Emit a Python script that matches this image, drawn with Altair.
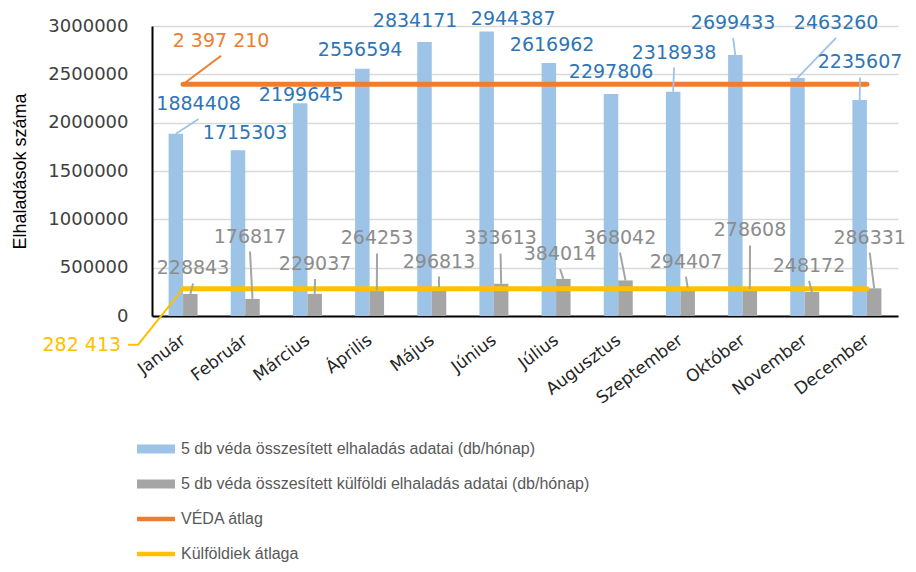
import json
import altair as alt
import pandas as pd

MONTHS = ["Január", "Február", "Március", "Április", "Május", "Június",
          "Július", "Augusztus", "Szeptember", "Október", "November", "December"]
TOTAL = [1884408, 1715303, 2199645, 2556594, 2834171, 2944387,
         2616962, 2297806, 2318938, 2699433, 2463260, 2235607]
FOREIGN = [228843, 176817, 229037, 264253, 296813, 333613,
           384014, 368042, 294407, 278608, 248172, 286331]
VEDA_AVG = 2397210
FOREIGN_AVG = 282413
AVG_LABELS = ["2 397 210", "282 413"]
SERIES = ["5 db véda összesített elhaladás adatai (db/hónap)",
          "5 db véda összesített külföldi elhaladás adatai (db/hónap)",
          "VÉDA átlag",
          "Külföldiek átlaga"]
Y_TICKS = [0, 500000, 1000000, 1500000, 2000000, 2500000, 3000000]
Y_MAX = 3000000

# styles
COLORS = ["#9DC3E6", "#A5A5A5", "#ED7D31", "#FFC000"]
BLUE_TXT = "#2E75B6"
GRAY_TXT = "#8C8C8C"

# label offsets (px) relative to the top centre of each bar
TOTAL_LABEL_DX = [22.8, 7.1, 1, -2.2, -9.4, 26.5, 3.3, 0.1, 0.9, -2.2, 38.6, 0.4]
TOTAL_LABEL_DY = [-29.8, -16.7, -8.4, -18.9, -21, -12.5, -18, -21.4, -39.3, -32, -55, -37.4]
FOREIGN_LABEL_DX = [2.7, -2.5, 0.4, 0.2, 0, -0.6, -3.3, -5.5, -1.7, 0.2, -3, -4.5]
FOREIGN_LABEL_DY = [-25.4, -62.4, -29.9, -52, -25.8, -45.3, -24.9, -42.9, -26, -58.6, -26, -50.8]

W, H = 746, 290
XU = 12 / W          # category units per pixel
YU = Y_MAX / H       # value units per pixel
BAR_W = 14.5 * XU
LEADER_GAP = 15      # px between label centre and leader start
LEADER_MIN = -24     # draw leader only when label is this far away

FONT = "DejaVu Sans"

xs = alt.Scale(domain=[-0.5, 11.5], nice=False, zero=False)
ys = alt.Scale(domain=[0, Y_MAX], nice=False)

rows = []
for i in range(12):
    rows.append(dict(idx=i, month=MONTHS[i], total=TOTAL[i], foreign=FOREIGN[i],
                     bl=i - BAR_W, bm=i, br=i + BAR_W))
months = pd.DataFrame(rows)

lab_rows, lead_rows = [], []
for i in range(12):
    for ser, vals, dxs, dys, cx in (("t", TOTAL, TOTAL_LABEL_DX, TOTAL_LABEL_DY, i - BAR_W / 2),
                                    ("f", FOREIGN, FOREIGN_LABEL_DX, FOREIGN_LABEL_DY, i + BAR_W / 2)):
        v = vals[i]
        lx = cx + dxs[i] * XU
        ly = v - dys[i] * YU
        lab_rows.append(dict(ser=ser, x=lx, y=ly, text=str(v)))
        if dys[i] < LEADER_MIN:
            lead_rows.append(dict(ser=ser, x=lx, y=ly - LEADER_GAP * YU, x2=cx, y2=v))
labels = pd.DataFrame(lab_rows)
leaders = pd.DataFrame(lead_rows)

x_axis = alt.Axis(values=list(range(12)), labelExpr=json.dumps(MONTHS) + "[datum.value]",
                  labelAngle=-37, labelAlign="right", labelBaseline="middle", labelPadding=22,
                  labelFont=FONT, labelFontSize=17, labelColor="#262626", labelOverlap=False,
                  labelFlush=False, labelBound=False, ticks=False, tickSize=0, grid=False,
                  domainColor="black", domainWidth=2, title=None)
y_axis = alt.Axis(values=Y_TICKS, format="d", grid=True, gridColor="#D9D9D9", gridWidth=1.5,
                  ticks=False, tickSize=0, domainColor="black", domainWidth=2, labelPadding=24,
                  labelFont=FONT, labelFontSize=18, labelColor="#404040",
                  title="Elhaladások száma", titleFont="Liberation Sans", titleFontSize=18,
                  titleFontWeight="normal", titleColor="black", titlePadding=18)


def X(f):
    return alt.X(f, scale=xs, axis=x_axis)


def Y(f):
    return alt.Y(f, scale=ys, axis=y_axis)


blue_bars = alt.Chart(months).mark_bar(color=COLORS[0]).encode(
    x=X("bl:Q"), x2="bm:Q", y=Y("total:Q"), y2=alt.datum(0))
gray_bars = alt.Chart(months).mark_bar(color=COLORS[1]).encode(
    x=X("bm:Q"), x2="br:Q", y=Y("foreign:Q"), y2=alt.datum(0))

avg_df = pd.DataFrame({"idx": list(range(12)), "veda": [VEDA_AVG] * 12, "kulf": [FOREIGN_AVG] * 12})
veda_line = alt.Chart(avg_df).mark_line(color=COLORS[2], strokeWidth=5, strokeCap="round").encode(
    x=X("idx:Q"), y=Y("veda:Q"))
kulf_line = alt.Chart(avg_df).mark_line(color=COLORS[3], strokeWidth=5, strokeCap="round").encode(
    x=X("idx:Q"), y=Y("kulf:Q"))

lead_layers = []
for ser, col, wid in (("t", COLORS[0], 1.8), ("f", COLORS[1], 2)):
    lead_layers.append(alt.Chart(leaders[leaders.ser == ser]).mark_rule(color=col, strokeWidth=wid).encode(
        x=X("x:Q"), y=Y("y:Q"), x2="x2:Q", y2="y2:Q"))

lab_layers = []
for ser, col in (("t", BLUE_TXT), ("f", GRAY_TXT)):
    lab_layers.append(alt.Chart(labels[labels.ser == ser]).mark_text(
        color=col, font=FONT, fontSize=19, align="center", baseline="middle").encode(
        x=X("x:Q"), y=Y("y:Q"), text="text:N"))

# average line labels
veda_lab = pd.DataFrame([dict(x=0 + 38 * XU, y=VEDA_AVG + 43.5 * YU, text=AVG_LABELS[0])])
veda_lead = pd.DataFrame([dict(x=0 + 38 * XU, y=VEDA_AVG + (43.5 - LEADER_GAP) * YU, x2=0, y2=VEDA_AVG)])
kulf_lab = pd.DataFrame([dict(x=0 - 62 * XU, y=FOREIGN_AVG - 56 * YU, text=AVG_LABELS[1])])
kulf_lead = pd.DataFrame([dict(o=0, x=0, y=FOREIGN_AVG),
                          dict(o=1, x=0 - 45 * XU, y=FOREIGN_AVG - 56 * YU),
                          dict(o=2, x=0 - 55 * XU, y=FOREIGN_AVG - 56 * YU)])

veda_lab_l = alt.Chart(veda_lab).mark_text(color=COLORS[2], font=FONT, fontSize=19,
                                           align="center", baseline="middle").encode(
    x=X("x:Q"), y=Y("y:Q"), text="text:N")
veda_lead_l = alt.Chart(veda_lead).mark_rule(color=COLORS[2], strokeWidth=2).encode(
    x=X("x:Q"), y=Y("y:Q"), x2="x2:Q", y2="y2:Q")
kulf_lab_l = alt.Chart(kulf_lab).mark_text(color=COLORS[3], font=FONT, fontSize=19,
                                           align="right", baseline="middle").encode(
    x=X("x:Q"), y=Y("y:Q"), text="text:N")
kulf_lead_l = alt.Chart(kulf_lead).mark_line(color=COLORS[3], strokeWidth=2).encode(
    x=X("x:Q"), y=Y("y:Q"), order="o:Q")

# legend carrier (clipped out of view)
RECT = "M-1,-0.24H1V0.24H-1Z"
LINE = "M-1,-0.12H1V0.12H-1Z"
leg_df = pd.DataFrame({"series": SERIES, "x": [0] * 4, "y": [-Y_MAX] * 4})
legend_l = alt.Chart(leg_df).mark_point(filled=True, clip=True, strokeWidth=0, opacity=1).encode(
    x=X("x:Q"), y=Y("y:Q"),
    color=alt.Color("series:N", scale=alt.Scale(domain=SERIES, range=COLORS),
                    legend=alt.Legend(orient="none", legendX=-15, legendY=404, title=None,
                                      labelFont="Liberation Sans", labelFontSize=16,
                                      labelColor="#595959", rowPadding=8, labelOffset=6,
                                      labelLimit=0, padding=0, symbolSize=1444,
                                      symbolStrokeWidth=0, symbolOpacity=1)),
    shape=alt.Shape("series:N", scale=alt.Scale(domain=SERIES, range=[RECT, RECT, LINE, LINE]),
                    legend=None))

chart = alt.layer(blue_bars, gray_bars, veda_line, kulf_line, *lead_layers, *lab_layers,
                  veda_lead_l, veda_lab_l, kulf_lead_l, kulf_lab_l, legend_l).properties(
    width=W, height=H, autosize="none",
    padding={"left": 144, "top": 18, "right": 10, "bottom": 248}
).configure_view(stroke=None)

chart.save("out.html", embed_options={"renderer": "svg", "actions": False})
